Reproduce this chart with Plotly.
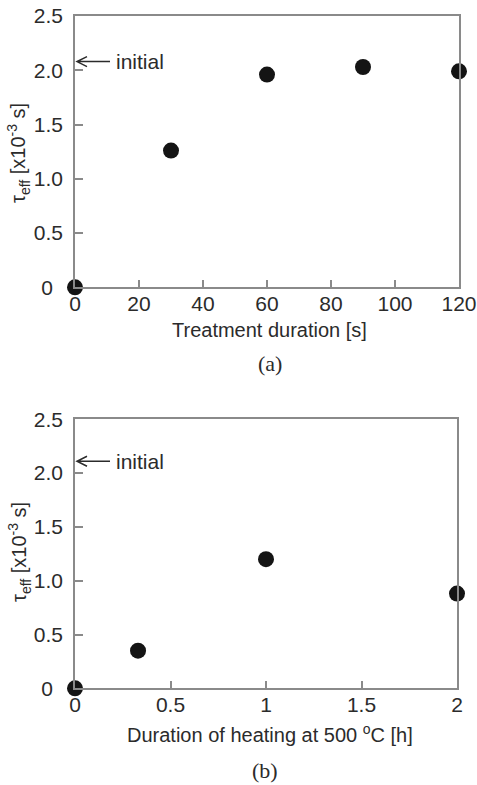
import plotly.graph_objects as go

# (a) plasma treatment series
treat_s = [0, 30, 60, 90, 120]
tau_a = [0.0, 1.26, 1.96, 2.03, 1.99]
initial_a = 2.08

# (b) annealing series
heat_h = [0, 0.33, 1, 2]
tau_b = [0.0, 0.35, 1.20, 0.88]
initial_b = 2.11

y_ticks = [0, 0.5, 1.0, 1.5, 2.0, 2.5]
y_ticktext = ["0\u00a0\u2009", "0.5", "1.0", "1.5", "2.0", "2.5"]
xa_ticks = [0, 20, 40, 60, 80, 100, 120]
xb_ticks = [0, 0.5, 1, 1.5, 2]
xb_ticktext = ["0", "0.5", "1", "1.5", "2"]

W, H = 477, 785
AX = "#8a8a8a"
TXT = "#2b2b2b"
SANS = "Liberation Sans, Arial, sans-serif"
SERIF = "Liberation Serif, Times New Roman, serif"

def px_x(p):
    return p / W

def px_y(p):
    return 1 - p / H

fig = go.Figure()
marker = dict(size=16, color="#141414")
fig.add_trace(go.Scatter(x=treat_s, y=tau_a, mode="markers", marker=marker,
                         cliponaxis=False, xaxis="x", yaxis="y", showlegend=False))
fig.add_trace(go.Scatter(x=heat_h, y=tau_b, mode="markers", marker=marker,
                         cliponaxis=False, xaxis="x2", yaxis="y2", showlegend=False))

axis_common = dict(showgrid=False, zeroline=False, showline=True, linecolor=AX,
                   linewidth=1.5, mirror=True, ticks="inside", ticklen=8,
                   tickwidth=1.5, tickcolor=AX, automargin=False,
                   tickfont=dict(family=SANS, size=21, color=TXT))
xax = dict(axis_common, ticklabelstandoff=-3)
yax = dict(axis_common, ticklabelstandoff=6)

fig.update_layout(
    template="none",
    width=W, height=H, margin=dict(l=0, r=0, t=0, b=0, pad=0),
    paper_bgcolor="white", plot_bgcolor="white",
    xaxis=dict(xax, domain=[px_x(75), px_x(459)], range=[0, 120],
               tickvals=xa_ticks, anchor="y"),
    yaxis=dict(yax, domain=[px_y(287.3), px_y(16)], range=[0, 2.5],
               tickvals=y_ticks, ticktext=y_ticktext, anchor="x"),
    xaxis2=dict(xax, domain=[px_x(75), px_x(457)], range=[0, 2],
                tickvals=xb_ticks, ticktext=xb_ticktext, anchor="y2"),
    yaxis2=dict(yax, domain=[px_y(688.3), px_y(419.3)], range=[0, 2.5],
                tickvals=y_ticks, ticktext=y_ticktext, anchor="x2"),
)

ytitle = "τ<sub>eff</sub> [x10<sup>-3</sup> s]"
annotations = [
    dict(text=ytitle, x=px_x(19), y=px_y(153), textangle=-90),
    dict(text=ytitle, x=px_x(19), y=px_y(552), textangle=-90),
    dict(text="Treatment duration [s]", x=px_x(269), y=px_y(330)),
    dict(text="Duration of heating at 500 <sup>o</sup>C [h]", x=px_x(270), y=px_y(733)),
]
for a in annotations:
    a.update(xref="paper", yref="paper", showarrow=False,
             xanchor="center", yanchor="middle",
             font=dict(family=SANS, size=20, color=TXT))
    fig.add_annotation(**a)

for cap, xp, yp in [("(a)", 270, 363), ("(b)", 265, 770)]:
    fig.add_annotation(text=cap, x=px_x(xp), y=px_y(yp), xref="paper", yref="paper",
                       xanchor="center", yanchor="middle", showarrow=False,
                       font=dict(family=SERIF, size=22, color=TXT))

# "initial" markers: open arrow pointing at the y axis plus label
for xr, yr, yv in [("x", "y", initial_a), ("x2", "y2", initial_b)]:
    fig.add_shape(type="path", xref=xr, yref=yr, xsizemode="pixel", ysizemode="pixel",
                  xanchor=0, yanchor=yv,
                  path="M 2 0 L 35 0 M 12 -5 L 2 0 L 12 5",
                  line=dict(color=TXT, width=1.5))
    fig.add_annotation(text="initial", x=0, y=yv, xref=xr, yref=yr, xanchor="left",
                       yanchor="middle", xshift=39, showarrow=False,
                       font=dict(family=SANS, size=21, color=TXT))

fig.write_html("out.html")
